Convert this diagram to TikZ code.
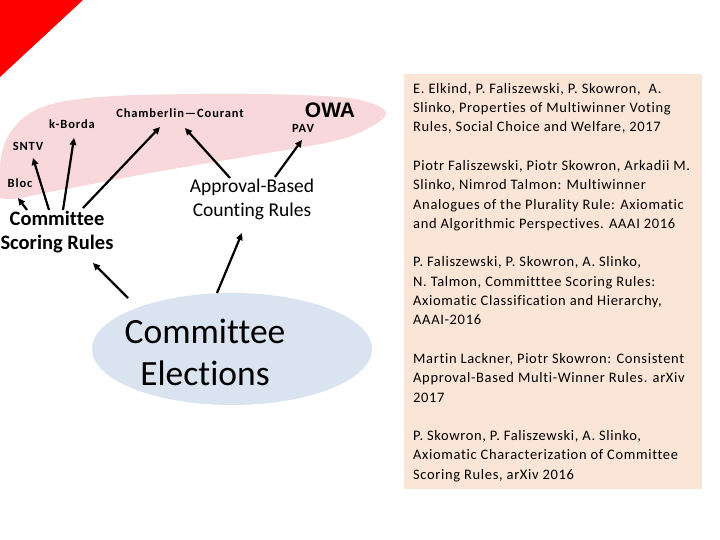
\documentclass[tikz,border=0pt]{standalone}
\usepackage{fontspec}
\setmainfont{Carlito}[Ligatures=NoCommon]
\newfontfamily\arialfont{Liberation Sans}
\newfontfamily\spacedfont{Carlito}[Ligatures=NoCommon,LetterSpace=4.5]
\newfontfamily\labelfont{Carlito}[Ligatures=NoCommon,LetterSpace=7]
\usetikzlibrary{arrows.meta,calc}
\definecolor{blobpink}{RGB}{248,216,219}
\definecolor{ellblue}{RGB}{218,227,240}
\definecolor{panelpeach}{RGB}{251,229,214}
\tikzset{
  arr/.style={line width=2.2pt,-{Triangle[length=7pt,width=6.5pt]}},
  small/.style={inner sep=0pt,font=\labelfont\fontsize{12.5}{14}\selectfont\bfseries},
  mid/.style={inner sep=0pt,align=center},
}
\begin{document}
\begin{tikzpicture}[x=1pt,y=-1pt]
\useasboundingbox (0,0) rectangle (720,540);
\fill[white] (0,0) rectangle (720,540);
% red corner
\fill[red] (0,0) -- (83,0) -- (0,77) -- cycle;
% pink blob
\fill[blobpink] plot[smooth cycle,tension=0.6] coordinates {(1,198) (0,165) (10,133) (40,108) (100,97) (200,94) (300,95) (360,100) (386,113) (365,130) (330,142) (250,156) (150,173) (60,190)};
% blue ellipse
\fill[ellblue] (232,349) ellipse [x radius=140, y radius=56];
% panel
\fill[panelpeach] (404,74) rectangle (702,489);

% labels
\node[small] (kborda) at (72,124) {k-Borda};
\node[small] (cc) at (180,113) {Chamberlin—Courant};
\node[inner sep=0pt,font=\arialfont\fontsize{21}{24}\selectfont\bfseries] (owa) at (330,110) {OWA};
\node[small] (pav) at (303,128) {PAV};
\node[small] (sntv) at (28,146) {SNTV};
\node[small] (bloc) at (20,183) {Bloc};
\node[mid,font=\fontsize{20.5}{23.5}\selectfont\bfseries] (csr) at (57,232) {Committee\\Scoring Rules};
\node[mid,font=\fontsize{19.5}{24}\selectfont] (abcr) at (252,199) {Approval-Based\\Counting Rules};
\node[mid,font=\fontsize{35.5}{42}\selectfont] (ce) at (205,352) {Committee\\Elections};
\coordinate (ctr) at (232,349);

% arrows
\draw[arr] ($(csr)+(-30,-22)$) -- ($(bloc)+(-2,15)$);
\draw[arr] ($(csr)+(-8,-22)$) -- ($(sntv)+(5,12)$);
\draw[arr] ($(csr)+(6,-22)$) -- ($(kborda)+(2,14)$);
\draw[arr] ($(csr)+(26,-24)$) -- ($(cc)+(-20,14)$);
\draw[arr] ($(abcr)+(-22,-21)$) -- ($(cc)+(5,15)$);
\draw[arr] ($(abcr)+(23,-22)$) -- ($(pav)+(-1,12)$);
\draw[arr] ($(ctr)+(-104,-51)$) -- ($(csr)+(36,31)$);
\draw[arr] ($(ctr)+(-15,-56)$) -- ($(abcr)+(-10,34)$);

% references
\node[anchor=north west,inner sep=0pt,align=left,font=\spacedfont\fontsize{14.5}{19.3}\selectfont] (refs) at (413,83) {%
E. Elkind, P. Faliszewski, P. Skowron,\ \ A.\\
Slinko, Properties of Multiwinner Voting\\
Rules, Social Choice and Welfare, 2017\\[19.3pt]
Piotr Faliszewski, Piotr Skowron, Arkadii M.\\
Slinko, Nimrod Talmon: Multiwinner\\
Analogues of the Plurality Rule: Axiomatic\\
and Algorithmic Perspectives. AAAI 2016\\[19.3pt]
P. Faliszewski, P. Skowron, A. Slinko,\\
N. Talmon, Committtee Scoring Rules:\\
Axiomatic Classification and Hierarchy,\\
AAAI-2016\\[19.3pt]
Martin Lackner, Piotr Skowron: Consistent\\
Approval-Based Multi-Winner Rules. arXiv\\
2017\\[19.3pt]
P. Skowron, P. Faliszewski, A. Slinko,\\
Axiomatic Characterization of Committee\\
Scoring Rules, arXiv 2016};
\end{tikzpicture}
\end{document}
